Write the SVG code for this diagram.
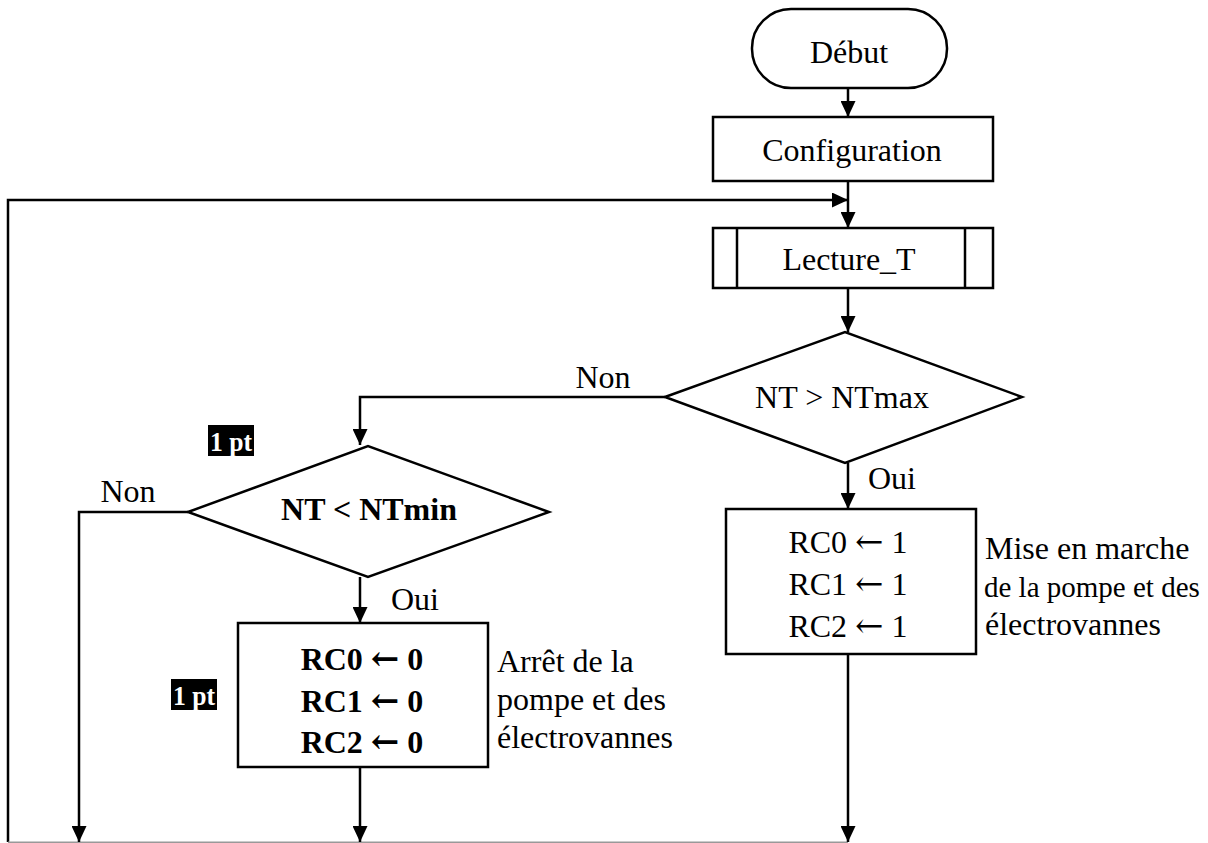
<svg xmlns="http://www.w3.org/2000/svg" width="1208" height="843" viewBox="0 0 1208 843">
<style>
.s{fill:#fff;stroke:#000;stroke-width:2.5}
.c{fill:none;stroke:#000;stroke-width:2.5}
.t{font-family:"Liberation Serif","Times New Roman",serif;font-size:32px;fill:#000}
.b{font-weight:bold}
.m{text-anchor:middle}
.a{font-family:"DejaVu Serif","Liberation Serif",serif;font-size:34px}
.pt{font-family:"Liberation Serif","Times New Roman",serif;font-size:28px;font-weight:bold;fill:#fff}
</style>
<defs>
<marker id="ar" markerUnits="userSpaceOnUse" viewBox="0 0 16 15" markerWidth="16" markerHeight="15" refX="16" refY="7.5" orient="auto">
<path d="M0,0 L16,7.5 L0,15 z" fill="#000"/>
</marker>
</defs>
<rect width="1208" height="843" fill="#fff"/>
<g id="connectors">
<path class="c" d="M848 88 V117" marker-end="url(#ar)"/>
<path class="c" d="M848 181 V228" marker-end="url(#ar)"/>
<path class="c" d="M8 842 V200 H848" marker-end="url(#ar)"/>
<path d="M8 842.3 H848" fill="none" stroke="#999" stroke-width="1.5"/>
<path class="c" d="M848 288 V332" marker-end="url(#ar)"/>
<path class="c" d="M665 397 H360 V445" marker-end="url(#ar)"/>
<path class="c" d="M188 512 H79 V842" marker-end="url(#ar)"/>
<path class="c" d="M360 577 V623" marker-end="url(#ar)"/>
<path class="c" d="M360 767 V842" marker-end="url(#ar)"/>
<path class="c" d="M848 463 V509" marker-end="url(#ar)"/>
<path class="c" d="M848 654 V842" marker-end="url(#ar)"/>
<text class="t m" x="603" y="388">Non</text>
<text class="t m" x="128" y="502">Non</text>
<text class="t" x="391" y="610">Oui</text>
<text class="t" x="868" y="489">Oui</text>
</g>
<g id="debut">
<rect class="s" x="752" y="9" width="195" height="79" rx="39" ry="39"/>
<text class="t m" x="849" y="63">Début</text>
</g>
<g id="configuration">
<rect class="s" x="713" y="117" width="280" height="64"/>
<text class="t m" x="852" y="161">Configuration</text>
</g>
<g id="lecture">
<rect class="s" x="713" y="228" width="280" height="60"/>
<line class="c" x1="737" y1="228" x2="737" y2="288"/>
<line class="c" x1="965" y1="228" x2="965" y2="288"/>
<text class="t m" x="849" y="270">Lecture_T</text>
</g>
<g id="test-max">
<polygon class="s" points="665,397 845,332 1022,397 845,463"/>
<text class="t m" x="842" y="408">NT &gt; NTmax</text>
</g>
<g id="test-min">
<polygon class="s" points="188,512 368,446 549,512 368,577"/>
<text class="t b m" x="369" y="520">NT &lt; NTmin</text>
</g>
<g id="marche">
<rect class="s" x="726" y="509" width="250" height="145"/>
<text class="t m" x="848" y="553">RC0 <tspan class="a">←</tspan> 1</text>
<text class="t m" x="848" y="595">RC1 <tspan class="a">←</tspan> 1</text>
<text class="t m" x="848" y="637">RC2 <tspan class="a">←</tspan> 1</text>
<text class="t" x="985" y="559">Mise en marche</text>
<text class="t" x="984" y="597" style="font-size:29px">de la pompe et des</text>
<text class="t" x="985" y="635">électrovannes</text>
</g>
<g id="arret">
<rect class="s" x="238" y="623" width="250" height="144"/>
<text class="t b m" x="362" y="670">RC0 <tspan class="a b">←</tspan> 0</text>
<text class="t b m" x="362" y="712">RC1 <tspan class="a b">←</tspan> 0</text>
<text class="t b m" x="362" y="753">RC2 <tspan class="a b">←</tspan> 0</text>
<text class="t" x="497" y="672">Arrêt de la</text>
<text class="t" x="497" y="710">pompe et des</text>
<text class="t" x="497" y="748">électrovannes</text>
</g>
<g id="pt1">
<rect x="208" y="425" width="46" height="31" fill="#000"/>
<text class="pt m" x="231" y="451" textLength="42" lengthAdjust="spacingAndGlyphs">1 pt</text>
</g>
<g id="pt2">
<rect x="171" y="679" width="46" height="31" fill="#000"/>
<text class="pt m" x="194" y="705" textLength="42" lengthAdjust="spacingAndGlyphs">1 pt</text>
</g>
</svg>
